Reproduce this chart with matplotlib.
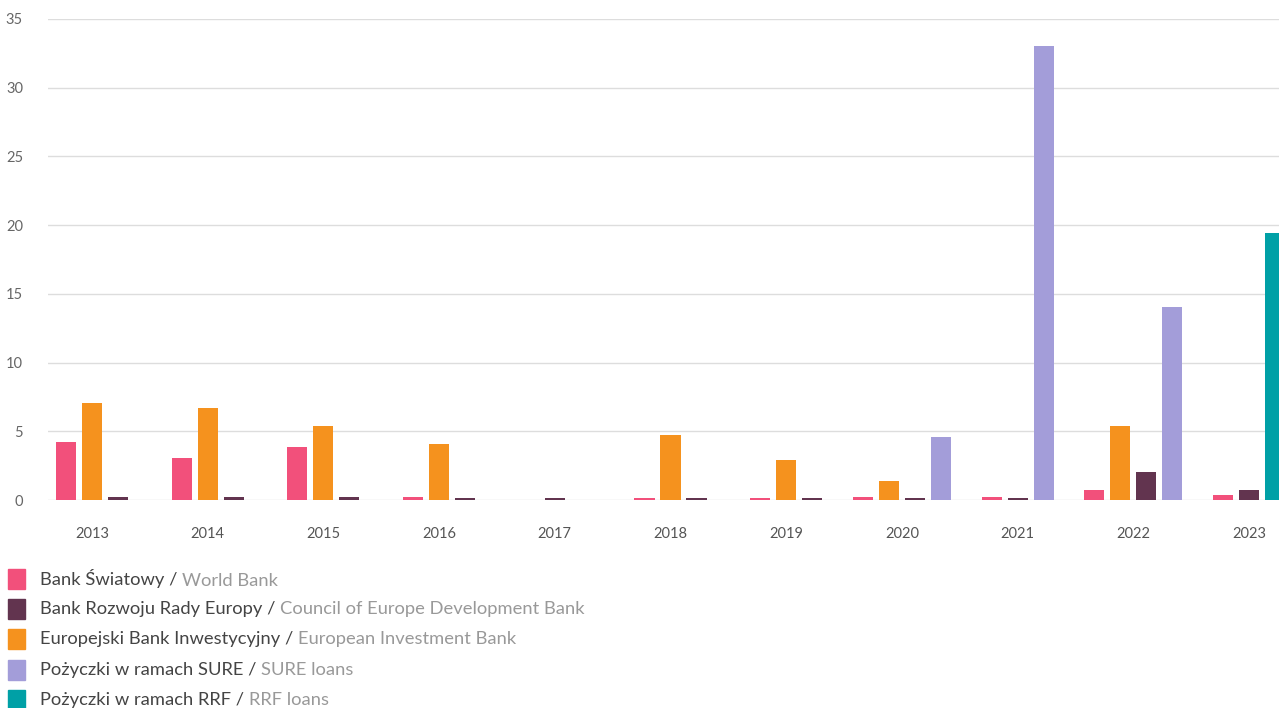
import matplotlib
matplotlib.use('Agg')
import matplotlib.pyplot as plt
from matplotlib.patches import Rectangle

plt.rcParams['font.family'] = ['Lato', 'DejaVu Sans']

years = ['2013', '2014', '2015', '2016', '2017', '2018', '2019', '2020', '2021', '2022', '2023']

# bn per year, 0 means no disbursement (bar is skipped)
world_bank = [4.22, 3.06, 3.86, 0.2, 0, 0.15, 0.15, 0.2, 0.2, 0.73, 0.36]
eib = [7.06, 6.7, 5.39, 4.08, 0, 4.73, 2.91, 1.38, 0, 5.39, 0]
ceb = [0.22, 0.2, 0.2, 0.15, 0.15, 0.15, 0.15, 0.15, 0.15, 2.04, 0.73]
sure = [0, 0, 0, 0, 0, 0, 0, 4.59, 33.0, 14.05, 0]
rrf = [0, 0, 0, 0, 0, 0, 0, 0, 0, 0, 19.43]

names_pl = ['Bank Światowy', 'Bank Rozwoju Rady Europy', 'Europejski Bank Inwestycyjny',
            'Pożyczki w ramach SURE', 'Pożyczki w ramach RRF']
names_en = ['World Bank', 'Council of Europe Development Bank', 'European Investment Bank',
            'SURE loans', 'RRF loans']
legend_colors = ['#F2507B', '#62344F', '#F5921E', '#A39DD9', '#00A0A6']

# order of bars inside a year group
series = [world_bank, eib, ceb, sure, rrf]
series_colors = ['#F2507B', '#F5921E', '#62344F', '#A39DD9', '#00A0A6']

step = 0.2247
width = 0.1729

fig = plt.figure(figsize=(12.79, 7.08), dpi=100)
W, H = 1279, 708
ax = fig.add_axes([48 / W, (H - 500) / H, (W - 48) / W, (500 - 19) / H])

for i in range(len(years)):
    present = [(s[i], c) for s, c in zip(series, series_colors) if s[i] > 0]
    n = len(present)
    for k, (v, c) in enumerate(present):
        x = i + (k - (n - 1) / 2) * step
        ax.bar(x, v, width=width, color=c, zorder=3, linewidth=0)

ax.set_xlim(-0.380, 10.259)
ax.set_ylim(0, 35)
ax.set_yticks(range(0, 36, 5))
ax.set_xticks(range(len(years)))
ax.set_xticklabels(years)
ax.grid(axis='y', color='#dddddd', linewidth=1, zorder=0)
ax.set_axisbelow(True)
for sp in ax.spines.values():
    sp.set_visible(False)
ax.tick_params(axis='y', length=0, pad=18, labelsize=10.5, labelcolor='#666666')
ax.tick_params(axis='x', length=0, pad=19.5, labelsize=10.5, labelcolor='#555555')

# legend drawn by hand: dark Polish name, grey English name
for j in range(len(names_pl)):
    yc = 579 + j * 30.2
    fig.patches.append(Rectangle((8 / W, (H - yc - 10) / H), 17 / W, 20 / H,
                                 transform=fig.transFigure, color=legend_colors[j]))
    t1 = fig.text(40 / W, (H - yc) / H, names_pl[j] + ' / ', fontsize=13.2,
                  color='#444444', va='center', ha='left')
    ax.annotate(names_en[j], xy=(1, 0), xycoords=t1, fontsize=13.2,
                color='#999999', va='bottom', ha='left', annotation_clip=False)

fig.savefig('out.png', dpi=100)
